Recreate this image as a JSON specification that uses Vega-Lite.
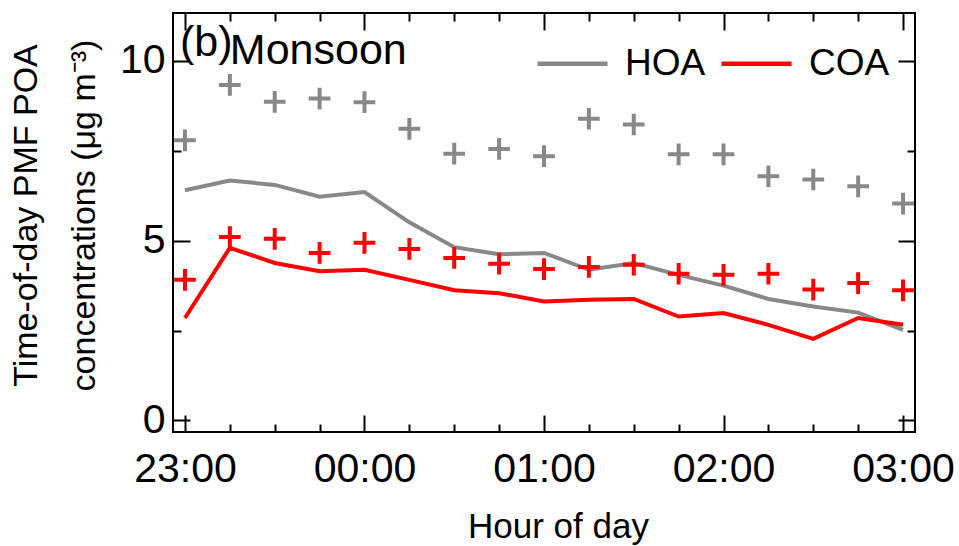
{
  "$schema": "https://vega.github.io/schema/vega-lite/v6.json",
  "width": 742,
  "height": 419,
  "autosize": "none",
  "padding": {"left": 173, "top": 13, "right": 44, "bottom": 114},
  "config": {
    "view": {"stroke": "#000000", "strokeWidth": 2},
    "font": "Liberation Sans",
    "axis": {"grid": false, "domain": false, "tickColor": "#000000", "tickWidth": 2, "labelColor": "#000000", "titleColor": "#000000", "labelFont": "Liberation Sans", "titleFont": "Liberation Sans", "titleFontWeight": "normal", "labelOverlap": false, "labelFlush": false, "labelBound": false}
  },
  "datasets": {
    "poa": [
      {"t": "2020-01-01T23:00:00", "series": "HOA", "line": 6.40, "cross": 7.79},
      {"t": "2020-01-01T23:15:00", "series": "HOA", "line": 6.67, "cross": 9.33},
      {"t": "2020-01-01T23:30:00", "series": "HOA", "line": 6.55, "cross": 8.86},
      {"t": "2020-01-01T23:45:00", "series": "HOA", "line": 6.22, "cross": 8.95},
      {"t": "2020-01-02T00:00:00", "series": "HOA", "line": 6.35, "cross": 8.85},
      {"t": "2020-01-02T00:15:00", "series": "HOA", "line": 5.51, "cross": 8.11},
      {"t": "2020-01-02T00:30:00", "series": "HOA", "line": 4.82, "cross": 7.42},
      {"t": "2020-01-02T00:45:00", "series": "HOA", "line": 4.62, "cross": 7.55},
      {"t": "2020-01-02T01:00:00", "series": "HOA", "line": 4.66, "cross": 7.35},
      {"t": "2020-01-02T01:15:00", "series": "HOA", "line": 4.19, "cross": 8.39},
      {"t": "2020-01-02T01:30:00", "series": "HOA", "line": 4.38, "cross": 8.23},
      {"t": "2020-01-02T01:45:00", "series": "HOA", "line": 4.05, "cross": 7.40},
      {"t": "2020-01-02T02:00:00", "series": "HOA", "line": 3.75, "cross": 7.40},
      {"t": "2020-01-02T02:15:00", "series": "HOA", "line": 3.38, "cross": 6.79},
      {"t": "2020-01-02T02:30:00", "series": "HOA", "line": 3.17, "cross": 6.70},
      {"t": "2020-01-02T02:45:00", "series": "HOA", "line": 3.00, "cross": 6.51},
      {"t": "2020-01-02T03:00:00", "series": "HOA", "line": 2.52, "cross": 6.03},
      {"t": "2020-01-01T23:00:00", "series": "COA", "line": 2.85, "cross": 3.91},
      {"t": "2020-01-01T23:15:00", "series": "COA", "line": 4.80, "cross": 5.10},
      {"t": "2020-01-01T23:30:00", "series": "COA", "line": 4.38, "cross": 5.05},
      {"t": "2020-01-01T23:45:00", "series": "COA", "line": 4.15, "cross": 4.66},
      {"t": "2020-01-02T00:00:00", "series": "COA", "line": 4.19, "cross": 4.94},
      {"t": "2020-01-02T00:15:00", "series": "COA", "line": 3.91, "cross": 4.77},
      {"t": "2020-01-02T00:30:00", "series": "COA", "line": 3.62, "cross": 4.52},
      {"t": "2020-01-02T00:45:00", "series": "COA", "line": 3.54, "cross": 4.36},
      {"t": "2020-01-02T01:00:00", "series": "COA", "line": 3.31, "cross": 4.21},
      {"t": "2020-01-02T01:15:00", "series": "COA", "line": 3.36, "cross": 4.27},
      {"t": "2020-01-02T01:30:00", "series": "COA", "line": 3.38, "cross": 4.33},
      {"t": "2020-01-02T01:45:00", "series": "COA", "line": 2.89, "cross": 4.08},
      {"t": "2020-01-02T02:00:00", "series": "COA", "line": 2.99, "cross": 4.05},
      {"t": "2020-01-02T02:15:00", "series": "COA", "line": 2.66, "cross": 4.08},
      {"t": "2020-01-02T02:30:00", "series": "COA", "line": 2.27, "cross": 3.64},
      {"t": "2020-01-02T02:45:00", "series": "COA", "line": 2.85, "cross": 3.82},
      {"t": "2020-01-02T03:00:00", "series": "COA", "line": 2.66, "cross": 3.62}
    ]
  },
  "resolve": {"axis": {"x": "independent", "y": "independent"}},
  "layer": [
    {
      "data": {"name": "poa"},
      "mark": {"type": "line", "strokeWidth": 4},
      "encoding": {
        "x": {
          "field": "t", "type": "temporal",
          "scale": {"domain": [{"year": 2020, "month": 1, "date": 1, "hours": 22, "minutes": 56}, {"year": 2020, "month": 1, "date": 2, "hours": 3, "minutes": 4}]},
          "axis": {
            "orient": "bottom",
            "offset": -17,
            "tickSize": 17,
            "values": [
              {"year": 2020, "month": 1, "date": 1, "hours": 23, "minutes": 0},
              {"year": 2020, "month": 1, "date": 2, "hours": 0, "minutes": 0},
              {"year": 2020, "month": 1, "date": 2, "hours": 1, "minutes": 0},
              {"year": 2020, "month": 1, "date": 2, "hours": 2, "minutes": 0},
              {"year": 2020, "month": 1, "date": 2, "hours": 3, "minutes": 0}
            ],
            "format": "%H:%M",
            "labelFontSize": 41,
            "labelPadding": 17,
            "title": "Hour of day",
            "titleFontSize": 35,
            "titleX": 385,
            "titleY": 122,
            "titleBaseline": "alphabetic",
            "titleAlign": "center"
          }
        },
        "y": {
          "field": "line", "type": "quantitative",
          "scale": {"domain": [-0.32, 11.33], "nice": false, "zero": false},
          "axis": {
            "orient": "left",
            "offset": -17,
            "tickSize": 17,
            "values": [0, 5, 10],
            "labelFontSize": 41,
            "labelPadding": 8,
            "title": ["Time-of-day PMF POA", "concentrations (μg m⁻³)"],
            "titleFontSize": 34,
            "titleLineHeight": 58,
            "titleAngle": -90,
            "titleX": -154,
            "titleY": 202,
            "titleBaseline": "alphabetic",
            "titleAlign": "center"
          }
        },
        "color": {
          "field": "series", "type": "nominal",
          "scale": {"domain": ["HOA", "COA"], "range": ["#888888", "#ff0000"]},
          "legend": {
            "title": null,
            "orient": "none",
            "direction": "horizontal",
            "legendX": 362,
            "legendY": 13,
            "padding": 0,
            "symbolType": "stroke",
            "symbolSize": 4900,
            "symbolStrokeWidth": 4.5,
            "labelFontSize": 37,
            "labelFont": "Liberation Sans",
            "labelColor": "#000000",
            "labelOffset": 15,
            "columnPadding": 6
          }
        }
      }
    },
    {
      "data": {"name": "poa"},
      "mark": {"type": "point", "shape": "M-1,0H1M0,-1V1", "size": 470, "strokeWidth": 4, "filled": false, "opacity": 1},
      "encoding": {
        "x": {
          "field": "t", "type": "temporal",
          "axis": {
            "orient": "top",
            "offset": -17,
            "tickSize": 17,
            "values": [
              {"year": 2020, "month": 1, "date": 1, "hours": 23, "minutes": 0},
              {"year": 2020, "month": 1, "date": 2, "hours": 0, "minutes": 0},
              {"year": 2020, "month": 1, "date": 2, "hours": 1, "minutes": 0},
              {"year": 2020, "month": 1, "date": 2, "hours": 2, "minutes": 0},
              {"year": 2020, "month": 1, "date": 2, "hours": 3, "minutes": 0}
            ],
            "labels": false,
            "title": null
          }
        },
        "y": {
          "field": "cross", "type": "quantitative",
          "axis": {
            "orient": "right",
            "offset": -17,
            "tickSize": 17,
            "values": [0, 5, 10],
            "labels": false,
            "title": null
          }
        },
        "stroke": {
          "field": "series", "type": "nominal",
          "scale": {"domain": ["HOA", "COA"], "range": ["#888888", "#ff0000"]},
          "legend": null
        }
      }
    },
    {
      "data": {"values": [{"t": "2020-01-01T22:58:20", "v": 10.13, "label": "(b)"}]},
      "mark": {"type": "text", "fontSize": 43, "align": "left", "baseline": "alphabetic", "color": "#000000", "font": "Liberation Sans"},
      "encoding": {
        "x": {
          "field": "t", "type": "temporal",
          "axis": {
            "orient": "bottom",
            "offset": -8,
            "tickSize": 8,
            "values": [
              {"year": 2020, "month": 1, "date": 1, "hours": 23, "minutes": 15},
              {"year": 2020, "month": 1, "date": 1, "hours": 23, "minutes": 30},
              {"year": 2020, "month": 1, "date": 1, "hours": 23, "minutes": 45},
              {"year": 2020, "month": 1, "date": 2, "hours": 0, "minutes": 15},
              {"year": 2020, "month": 1, "date": 2, "hours": 0, "minutes": 30},
              {"year": 2020, "month": 1, "date": 2, "hours": 0, "minutes": 45},
              {"year": 2020, "month": 1, "date": 2, "hours": 1, "minutes": 15},
              {"year": 2020, "month": 1, "date": 2, "hours": 1, "minutes": 30},
              {"year": 2020, "month": 1, "date": 2, "hours": 1, "minutes": 45},
              {"year": 2020, "month": 1, "date": 2, "hours": 2, "minutes": 15},
              {"year": 2020, "month": 1, "date": 2, "hours": 2, "minutes": 30},
              {"year": 2020, "month": 1, "date": 2, "hours": 2, "minutes": 45}
            ],
            "labels": false,
            "title": null
          }
        },
        "y": {
          "field": "v", "type": "quantitative",
          "axis": {
            "orient": "left",
            "offset": -8,
            "tickSize": 8,
            "values": [2.5, 7.5],
            "labels": false,
            "title": null
          }
        },
        "text": {"field": "label"}
      }
    },
    {
      "data": {"values": [{"t": "2020-01-01T23:15:00", "v": 9.90, "label": "Monsoon"}]},
      "mark": {"type": "text", "fontSize": 43, "align": "left", "baseline": "alphabetic", "color": "#000000", "font": "Liberation Sans"},
      "encoding": {
        "x": {
          "field": "t", "type": "temporal",
          "axis": {
            "orient": "top",
            "offset": -8,
            "tickSize": 8,
            "values": [
              {"year": 2020, "month": 1, "date": 1, "hours": 23, "minutes": 15},
              {"year": 2020, "month": 1, "date": 1, "hours": 23, "minutes": 30},
              {"year": 2020, "month": 1, "date": 1, "hours": 23, "minutes": 45},
              {"year": 2020, "month": 1, "date": 2, "hours": 0, "minutes": 15},
              {"year": 2020, "month": 1, "date": 2, "hours": 0, "minutes": 30},
              {"year": 2020, "month": 1, "date": 2, "hours": 0, "minutes": 45},
              {"year": 2020, "month": 1, "date": 2, "hours": 1, "minutes": 15},
              {"year": 2020, "month": 1, "date": 2, "hours": 1, "minutes": 30},
              {"year": 2020, "month": 1, "date": 2, "hours": 1, "minutes": 45},
              {"year": 2020, "month": 1, "date": 2, "hours": 2, "minutes": 15},
              {"year": 2020, "month": 1, "date": 2, "hours": 2, "minutes": 30},
              {"year": 2020, "month": 1, "date": 2, "hours": 2, "minutes": 45}
            ],
            "labels": false,
            "title": null
          }
        },
        "y": {
          "field": "v", "type": "quantitative",
          "axis": {
            "orient": "right",
            "offset": -8,
            "tickSize": 8,
            "values": [2.5, 7.5],
            "labels": false,
            "title": null
          }
        },
        "text": {"field": "label"}
      }
    }
  ]
}
